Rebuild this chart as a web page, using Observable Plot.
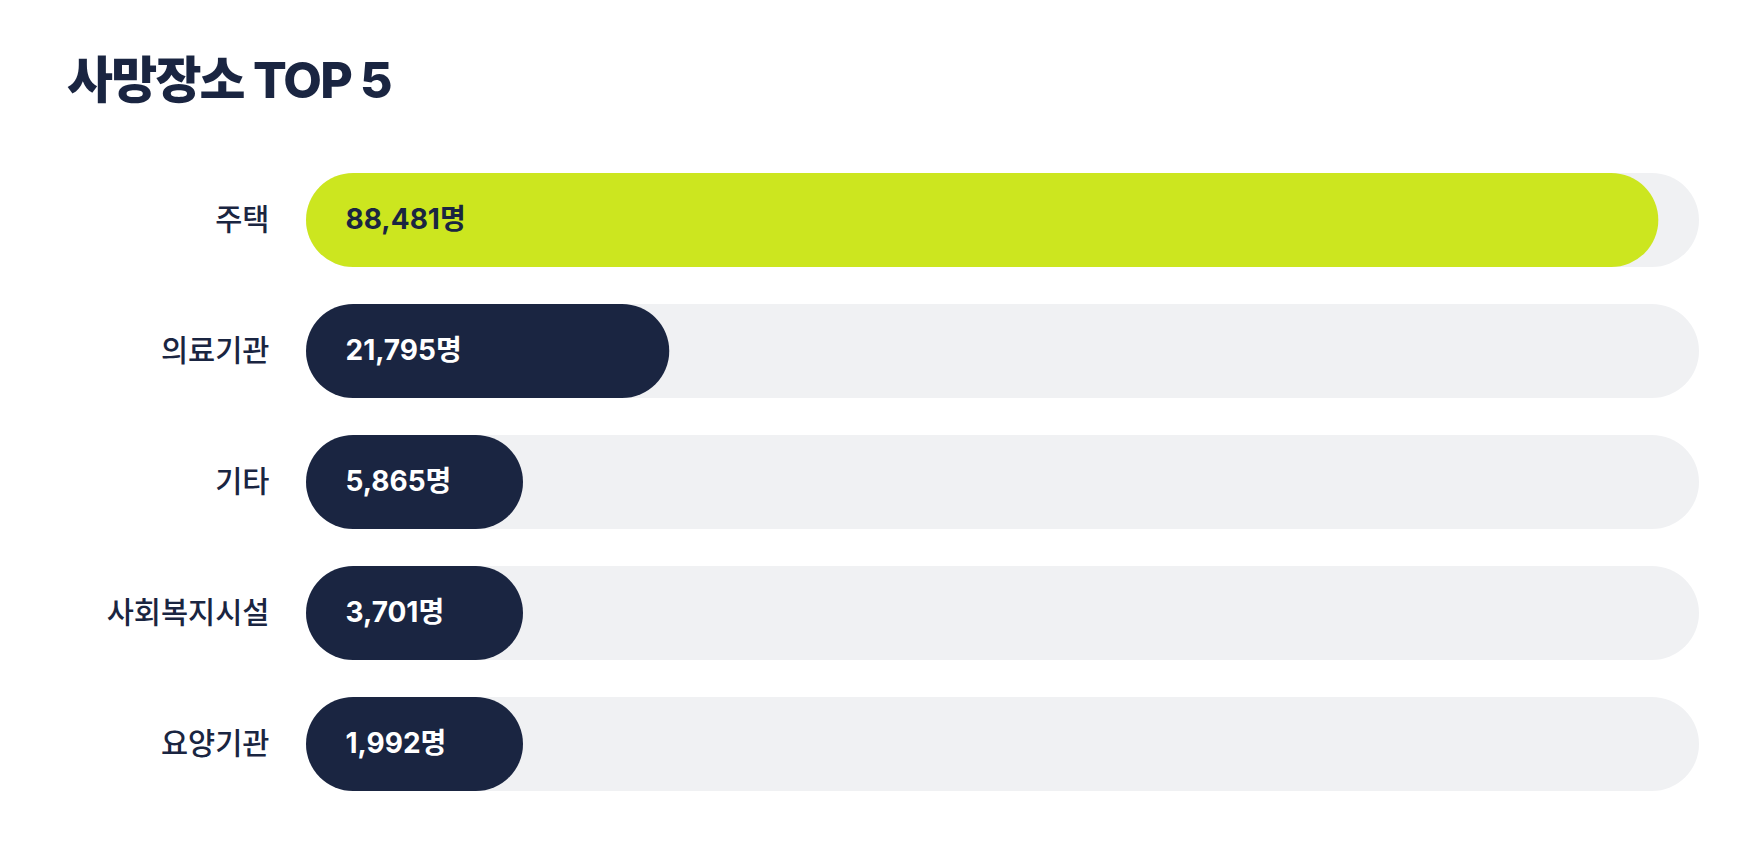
<!DOCTYPE html>
<html>
<head>
<meta charset="utf-8">
<script src="https://cdn.jsdelivr.net/npm/d3@7"></script>
<script src="https://cdn.jsdelivr.net/npm/@observablehq/plot@0.6"></script>
<style>
  html, body { margin: 0; padding: 0; background: #ffffff; }
  body { width: 1760px; height: 844px; overflow: hidden; font-family: "Inter", "Noto Sans CJK KR", sans-serif; }
  #title {
    box-sizing: border-box;
    height: 129px;
    padding: 55px 0 0 67px;
    margin: 0;
    font-size: 50px;
    line-height: 50px;
    font-weight: 800;
    color: #1a2541;
    letter-spacing: -1.8px;
  }
  #chart svg { display: block; }
</style>
</head>
<body>
<h1 id="title">사망장소 TOP 5</h1>
<div id="chart"></div>
<script>
// Data
const places = ["주택", "의료기관", "기타", "사회복지시설", "요양기관"];
const deaths = [88481, 21795, 5865, 3701, 1992];
const unit = "명";

const data = places.map((name, i) => ({name, value: deaths[i], rank: i}));

const W = 1760, H = 715;
const marginLeft = 346, marginRight = 61;
const xMax = d3.max(deaths) * 1.031;
const barH = 94.3;
const minBarPx = 177; // minimum visible bar length beyond the scale origin

const xScale = Plot.scale({x: {domain: [0, xMax], range: [marginLeft, W - marginRight]}});
const minValue = xScale.invert(marginLeft + minBarPx);

const lime = "#cce61f", navy = "#1a2541", track = "#f0f1f3";

const chart = Plot.plot({
  width: W,
  height: H,
  marginLeft,
  marginRight,
  marginTop: 24.2,
  marginBottom: 32.8,
  x: {domain: [0, xMax], axis: null},
  y: {domain: places, paddingInner: 0.283, paddingOuter: 0.1415, label: null},
  style: {fontFamily: "Inter, 'Noto Sans CJK KR', sans-serif", background: "transparent"},
  marks: [
    Plot.barX(data, {
      y: "name", x1: 0, x2: () => xMax,
      fill: track, insetLeft: -40, rx: barH / 2
    }),
    Plot.barX(data, {
      y: "name", x1: 0, x2: d => Math.max(d.value, minValue),
      fill: d => d.rank === 0 ? lime : navy,
      insetLeft: -40, rx: barH / 2
    }),
    Plot.text(data, {
      y: "name", x: 0, dx: -1,
      text: d => d3.format(",")(d.value) + unit,
      textAnchor: "start",
      fill: d => d.rank === 0 ? navy : "#ffffff",
      fontSize: 28, fontWeight: 700, letterSpacing: -0.3
    }),
    Plot.axisY({
      tickSize: 0, tickPadding: 77, fontSize: 29.5, label: null,
      fill: navy, fontWeight: 500
    })
  ]
});

document.getElementById("chart").appendChild(chart);
</script>
</body>
</html>
